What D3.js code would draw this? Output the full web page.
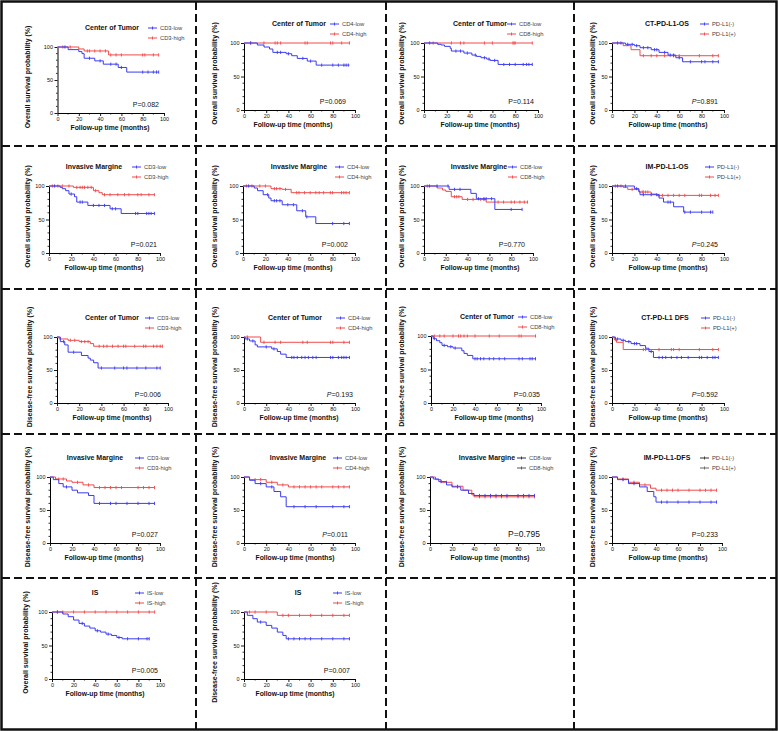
<!DOCTYPE html>
<html><head><meta charset="utf-8">
<script src="https://cdn.jsdelivr.net/npm/d3@7"></script>
<style>body{margin:0;background:#fff}svg{display:block}text{font-family:"Liberation Sans",Arial,sans-serif}</style>
</head><body><svg id="c" width="778" height="731"></svg>
<script>
// ---------- DATA: step curves [time, survival%] and censor times ----------
const xTicks = [0,20,40,60,80,100];
const yTicks = [0,50,100];
const OS_LABEL = "Overall survival probability (%)";
const DFS_LABEL = "Disease-free survival probability (%)";

const os_ct_cd3_low = [[0,100],[10,96],[20,93],[23,90],[25,83],[35,79],[43,74],[57,69],[65,62],[95,62]];
const os_ct_cd3_low_c = [7,30,40,50,55,60,80,85,90,93,95];
const os_ct_cd3_high = [[0,100],[20,97],[25,94],[48,88],[95,88]];
const os_ct_cd3_high_c = [5,12,28,30,35,40,45,50,55,60,80,82,90,95];

const os_ct_cd4_low = [[0,100],[12,97],[18,94],[23,91],[26,86],[38,84],[43,81],[48,77],[57,73],[65,67],[95,67]];
const os_ct_cd4_low_c = [6,30,33,40,53,60,70,80,85,90,92,94];
const os_ct_cd4_high = [[0,100],[95,100]];
const os_ct_cd4_high_c = [6,18,28,30,33,55,57,78,80,88,95];

const os_ct_cd8_low = [[0,100],[12,98],[15,97],[18,95],[23,92],[24,88],[35,85],[42,82],[46,80],[50,78],[55,76],[58,74],[65,68],[95,68]];
const os_ct_cd8_low_c = [5,28,32,38,45,53,57,62,70,75,80,87,90,92,95];
const os_ct_cd8_high = [[0,100],[95,100]];
const os_ct_cd8_high_c = [8,24,32,35,53,60,78,79,80,95];

const os_ct_pdl1_neg = [[0,100],[12,98],[20,96],[25,93],[35,90],[42,86],[50,82],[57,78],[63,72],[95,72]];
const os_ct_pdl1_neg_c = [5,8,14,18,22,28,32,38,40,47,52,55,60,70,80,83,90,95];
const os_ct_pdl1_pos = [[0,100],[10,96],[17,90],[25,81],[95,81]];
const os_ct_pdl1_pos_c = [28,35,40,47,55,60,78,90,95];

const os_im_cd3_low = [[0,100],[10,98],[12,96],[15,93],[18,88],[23,84],[25,76],[35,71],[55,66],[65,59],[95,59]];
const os_im_cd3_low_c = [5,20,28,30,40,45,50,57,60,78,80,88,90,92,95];
const os_im_cd3_high = [[0,100],[22,98],[40,93],[45,90],[48,87],[95,87]];
const os_im_cd3_high_c = [3,8,12,18,25,28,30,32,35,38,42,50,55,62,68,72,80,83,90,95];

const os_im_cd4_low = [[0,100],[10,97],[13,93],[18,87],[23,82],[25,78],[35,72],[48,63],[56,54],[65,44],[95,44]];
const os_im_cd4_low_c = [5,22,28,30,33,40,45,53,57,80,90,95];
const os_im_cd4_high = [[0,100],[25,96],[35,95],[43,90],[95,90]];
const os_im_cd4_high_c = [3,8,15,20,28,30,33,38,48,50,55,60,65,68,72,78,80,88,90,92,95];

const os_im_cd8_low = [[0,100],[23,95],[43,89],[48,81],[65,65],[90,65]];
const os_im_cd8_low_c = [5,12,22,28,33,50,55,57,62,80,90];
const os_im_cd8_high = [[0,100],[12,97],[17,94],[20,92],[25,84],[35,80],[57,76],[95,76]];
const os_im_cd8_high_c = [3,28,30,32,40,45,52,55,68,73,80,83,88,92,95];

const os_im_pdl1_neg = [[0,100],[20,96],[24,92],[25,87],[42,82],[46,76],[55,69],[64,61],[90,61]];
const os_im_pdl1_neg_c = [5,12,22,28,35,40,50,52,65,70,80,88,90];
const os_im_pdl1_pos = [[0,100],[10,98],[14,95],[24,91],[35,88],[40,86],[95,86]];
const os_im_pdl1_pos_c = [3,8,18,27,28,30,32,42,45,50,55,60,65,78,80,88,92,95];

const dfs_ct_cd3_low = [[0,100],[3,93],[7,88],[10,77],[22,72],[28,68],[30,65],[33,61],[37,53],[93,53]];
const dfs_ct_cd3_low_c = [6,15,40,52,60,63,72,80,90,93];
const dfs_ct_cd3_high = [[0,100],[2,97],[10,95],[20,93],[30,90],[33,86],[95,86]];
const dfs_ct_cd3_high_c = [12,16,22,25,28,38,42,45,50,55,60,62,70,78,80,87,90,93,95];

const dfs_ct_cd4_low = [[0,100],[1,97],[5,94],[10,88],[12,85],[25,82],[30,78],[33,74],[38,69],[95,69]];
const dfs_ct_cd4_low_c = [3,8,20,27,43,45,48,52,55,58,62,65,78,80,85,88,90,92,95];
const dfs_ct_cd4_high = [[0,100],[15,92],[95,92]];
const dfs_ct_cd4_high_c = [3,18,28,33,53,57,78,80,90,95];

const dfs_ct_cd8_low = [[0,100],[2,96],[5,93],[8,90],[10,86],[15,84],[20,82],[28,78],[30,74],[33,71],[38,66],[95,66]];
const dfs_ct_cd8_low_c = [3,12,18,22,40,42,45,48,53,57,62,67,80,83,90,92,95];
const dfs_ct_cd8_high = [[0,100],[95,100]];
const dfs_ct_cd8_high_c = [3,8,12,20,25,27,30,33,40,53,62,80,82,95];

const dfs_ct_pdl1_neg = [[0,100],[3,97],[8,95],[12,93],[17,90],[25,87],[30,83],[33,78],[37,69],[95,69]];
const dfs_ct_pdl1_neg_c = [5,10,15,20,22,35,42,45,48,53,58,62,68,78,80,85,90,92,95];
const dfs_ct_pdl1_pos = [[0,100],[2,96],[4,92],[10,81],[95,81]];
const dfs_ct_pdl1_pos_c = [3,28,30,42,53,55,60,78,90,95];

const dfs_im_cd3_low = [[0,100],[3,96],[8,90],[12,85],[20,80],[25,76],[35,72],[40,60],[95,60]];
const dfs_im_cd3_low_c = [15,45,55,60,70,80,90,95];
const dfs_im_cd3_high = [[0,100],[5,97],[15,94],[20,92],[30,88],[40,84],[95,84]];
const dfs_im_cd3_high_c = [8,12,25,35,45,50,55,60,65,80,85,90,95];

const dfs_im_cd4_low = [[0,100],[5,95],[10,90],[20,85],[27,78],[33,70],[38,55],[95,55]];
const dfs_im_cd4_low_c = [15,25,45,55,65,80,90,95];
const dfs_im_cd4_high = [[0,100],[5,96],[20,92],[30,88],[40,85],[95,85]];
const dfs_im_cd4_high_c = [10,15,25,35,45,50,55,60,65,70,80,85,90,95];

const dfs_im_cd8_low = [[0,100],[3,97],[8,93],[15,88],[20,85],[28,80],[35,75],[40,72],[95,72]];
const dfs_im_cd8_low_c = [10,25,45,50,55,60,65,70,80,85,90,95];
const dfs_im_cd8_high = [[0,100],[5,96],[10,92],[20,86],[30,80],[38,73],[40,70],[95,70]];
const dfs_im_cd8_high_c = [15,25,45,50,55,60,65,70,80,85,90,95];

const dfs_im_pdl1_neg = [[0,100],[5,96],[15,90],[25,85],[32,78],[38,70],[40,62],[95,62]];
const dfs_im_pdl1_neg_c = [10,20,45,50,60,70,80,90,95];
const dfs_im_pdl1_pos = [[0,100],[5,97],[15,92],[25,88],[35,83],[40,80],[95,80]];
const dfs_im_pdl1_pos_c = [10,20,30,45,50,55,60,70,80,85,90,95];

const os_is_low = [[0,100],[10,97],[15,93],[20,88],[25,83],[30,79],[35,76],[40,72],[45,70],[50,67],[55,65],[60,62],[65,60],[90,60]];
const os_is_low_c = [5,28,42,52,62,70,80,88,90];
const os_is_high = [[0,100],[95,100]];
const os_is_high_c = [5,10,20,30,40,50,60,70,80,90,95];

const dfs_is_low = [[0,100],[3,95],[8,90],[12,85],[20,80],[25,76],[30,70],[35,65],[38,60],[95,60]];
const dfs_is_low_c = [15,40,45,50,55,60,70,80,90,95];
const dfs_is_high = [[0,100],[30,95],[95,95]];
const dfs_is_high_c = [5,10,20,35,40,50,60,70,80,90,95];

// ---------- panel content ----------
const panels = [
 {title:"Center of Tumor", ylab:OS_LABEL, names:["CD3-low","CD3-high"], p:"P=0.082", it:false, a:[os_ct_cd3_low,os_ct_cd3_low_c], b:[os_ct_cd3_high,os_ct_cd3_high_c]},
 {title:"Center of Tumor", ylab:OS_LABEL, names:["CD4-low","CD4-high"], p:"P=0.069", it:false, a:[os_ct_cd4_low,os_ct_cd4_low_c], b:[os_ct_cd4_high,os_ct_cd4_high_c]},
 {title:"Center of Tumor", ylab:OS_LABEL, names:["CD8-low","CD8-high"], p:"P=0.114", it:false, a:[os_ct_cd8_low,os_ct_cd8_low_c], b:[os_ct_cd8_high,os_ct_cd8_high_c]},
 {title:"CT-PD-L1-OS", ylab:OS_LABEL, names:["PD-L1(-)","PD-L1(+)"], p:"P=0.891", it:true, a:[os_ct_pdl1_neg,os_ct_pdl1_neg_c], b:[os_ct_pdl1_pos,os_ct_pdl1_pos_c]},
 {title:"Invasive Margine", ylab:OS_LABEL, names:["CD3-low","CD3-high"], p:"P=0.021", it:false, a:[os_im_cd3_low,os_im_cd3_low_c], b:[os_im_cd3_high,os_im_cd3_high_c]},
 {title:"Invasive Margine", ylab:OS_LABEL, names:["CD4-low","CD4-high"], p:"P=0.002", it:false, a:[os_im_cd4_low,os_im_cd4_low_c], b:[os_im_cd4_high,os_im_cd4_high_c]},
 {title:"Invasive Margine", ylab:OS_LABEL, names:["CD8-low","CD8-high"], p:"P=0.770", it:false, a:[os_im_cd8_low,os_im_cd8_low_c], b:[os_im_cd8_high,os_im_cd8_high_c]},
 {title:"IM-PD-L1-OS", ylab:OS_LABEL, names:["PD-L1(-)","PD-L1(+)"], p:"P=0.245", it:true, a:[os_im_pdl1_neg,os_im_pdl1_neg_c], b:[os_im_pdl1_pos,os_im_pdl1_pos_c]},
 {title:"Center of Tumor", ylab:DFS_LABEL, names:["CD3-low","CD3-high"], p:"P=0.006", it:false, a:[dfs_ct_cd3_low,dfs_ct_cd3_low_c], b:[dfs_ct_cd3_high,dfs_ct_cd3_high_c]},
 {title:"Center of Tumor", ylab:DFS_LABEL, names:["CD4-low","CD4-high"], p:"P=0.193", it:true, a:[dfs_ct_cd4_low,dfs_ct_cd4_low_c], b:[dfs_ct_cd4_high,dfs_ct_cd4_high_c]},
 {title:"Center of Tumor", ylab:DFS_LABEL, names:["CD8-low","CD8-high"], p:"P=0.035", it:false, a:[dfs_ct_cd8_low,dfs_ct_cd8_low_c], b:[dfs_ct_cd8_high,dfs_ct_cd8_high_c]},
 {title:"CT-PD-L1 DFS", ylab:DFS_LABEL, names:["PD-L1(-)","PD-L1(+)"], p:"P=0.592", it:true, a:[dfs_ct_pdl1_neg,dfs_ct_pdl1_neg_c], b:[dfs_ct_pdl1_pos,dfs_ct_pdl1_pos_c]},
 {title:"Invasive Margine", ylab:DFS_LABEL, names:["CD3-low","CD3-high"], p:"P=0.027", it:false, a:[dfs_im_cd3_low,dfs_im_cd3_low_c], b:[dfs_im_cd3_high,dfs_im_cd3_high_c]},
 {title:"Invasive Margine", ylab:DFS_LABEL, names:["CD4-low","CD4-high"], p:"P=0.011", it:true, a:[dfs_im_cd4_low,dfs_im_cd4_low_c], b:[dfs_im_cd4_high,dfs_im_cd4_high_c]},
 {title:"Invasive Margine", ylab:DFS_LABEL, names:["CD8-low","CD8-high"], p:"P=0.795", it:false, big:true, legCols:["#2a2a55","#555"], a:[dfs_im_cd8_low,dfs_im_cd8_low_c], b:[dfs_im_cd8_high,dfs_im_cd8_high_c]},
 {title:"IM-PD-L1-DFS", ylab:DFS_LABEL, names:["PD-L1(-)","PD-L1(+)"], p:"P=0.233", it:false, legCols:["#333","#666"], a:[dfs_im_pdl1_neg,dfs_im_pdl1_neg_c], b:[dfs_im_pdl1_pos,dfs_im_pdl1_pos_c]},
 {title:"IS", ylab:OS_LABEL, names:["IS-low","IS-high"], p:"P=0.005", it:false, a:[os_is_low,os_is_low_c], b:[os_is_high,os_is_high_c]},
 {title:"IS", ylab:DFS_LABEL, names:["IS-low","IS-high"], p:"P=0.007", it:false, a:[dfs_is_low,dfs_is_low_c], b:[dfs_is_high,dfs_is_high_c]}
];

// ---------- layout (pixels): axisX, x100, y100, y0, titleX, legendX, ylabelX, pRight, xlabelX ----------
const layout = [
 [57.5,164,47,113,112,148,30,159,110],
 [244,355,43,110,299,330,217,346,293],
 [424,538,43,110,480,507,404,534,480],
 [612,724,43,110,667,700,595,718,668],
 [49,160,186,253,94,132,30,157,104],
 [243,355,186,253,299,335,217,348,293],
 [424,533,186,253,479,508,404,525,480],
 [612,724,186,253,667,705,595,718,668],
 [57,168,337,403,112,145,32,161,112],
 [244,355,337,403,295,336,217,353,299],
 [431,541,336,403,487,518,404,540,494],
 [612,724,337,403,665,701,595,718,668],
 [50,160,477,543,95,135,30,158,104],
 [244,355,477,543,298,333,217,348,295],
 [430,540,477,543,487,517,404,540,490],
 [612,722,477,543,667,700,595,718,668],
 [52,160,612,679,95,135,28,158,105],
 [244,355,612,679,298,333,217,350,295]
];

const BLUE = "#3b3bf5", RED = "#f04a4a";
const svg = d3.select("#c");
svg.append("rect").attr("x",0).attr("y",0).attr("width",778).attr("height",731).attr("fill","#fff");

// grid of dashed separators
const hLines = [146,289,434,578];
const vLines = [196,386,574];
hLines.forEach(y=>svg.append("line").attr("x1",2).attr("x2",776).attr("y1",y).attr("y2",y)
  .attr("stroke","#111").attr("stroke-width",2).attr("stroke-dasharray","8,4"));
vLines.forEach(x=>svg.append("line").attr("x1",x).attr("x2",x).attr("y1",2).attr("y2",729)
  .attr("stroke","#111").attr("stroke-width",2).attr("stroke-dasharray","8,4"));
svg.append("rect").attr("x",1.5).attr("y",1.5).attr("width",775).attr("height",728)
  .attr("fill","none").attr("stroke","#111").attr("stroke-width",2.5);

function survAt(steps,t){let s=steps[0][1];for(const d of steps){if(d[0]<=t)s=d[1];}return s;}

panels.forEach((P,i)=>{
  const [ax,ax100,ay100,ay0,tX,lX,ylX,pX,xlX] = layout[i];
  const x = d3.scaleLinear().domain([0,100]).range([ax,ax100]);
  const y = d3.scaleLinear().domain([0,100]).range([ay0,ay100]);
  const g = svg.append("g");

  // minor ticks
  const minor = [10,30,50,70,90];
  g.selectAll(null).data(minor).join("line").attr("x1",d=>x(d)).attr("x2",d=>x(d)).attr("y1",ay0).attr("y2",ay0+1.5).attr("stroke","#000").attr("stroke-width",0.8);
  g.selectAll(null).data([10,20,30,40,60,70,80,90]).join("line").attr("y1",d=>y(d)).attr("y2",d=>y(d)).attr("x1",ax).attr("x2",ax-1.5).attr("stroke","#000").attr("stroke-width",0.8);

  const xa = g.append("g").attr("transform",`translate(0,${ay0})`)
    .call(d3.axisBottom(x).tickValues(xTicks).tickSize(3).tickSizeOuter(0).tickPadding(1.5));
  const ya = g.append("g").attr("transform",`translate(${ax},0)`)
    .call(d3.axisLeft(y).tickValues(yTicks).tickSize(3).tickSizeOuter(0).tickPadding(1.5));
  [xa,ya].forEach(a=>{a.select(".domain").attr("stroke","#000").attr("stroke-width",1);
    a.selectAll(".tick line").attr("stroke","#000").attr("stroke-width",0.9);
    a.selectAll("text").attr("font-size",5.5).attr("font-family","Liberation Sans, Arial, sans-serif").attr("fill","#111");});

  const line = d3.line().x(d=>x(d[0])).y(d=>y(d[1])).curve(d3.curveStepAfter);
  [[P.b,RED],[P.a,BLUE]].forEach(([c,col])=>{
    g.append("path").datum(c[0]).attr("d",line).attr("fill","none").attr("stroke",col).attr("stroke-width",1);
    g.selectAll(null).data(c[1]).join("line")
      .attr("x1",t=>x(t)).attr("x2",t=>x(t))
      .attr("y1",t=>y(survAt(c[0],t))-1.6).attr("y2",t=>y(survAt(c[0],t))+1.6)
      .attr("stroke",col).attr("stroke-width",0.9);
  });

  // title
  g.append("text").attr("x",tX).attr("y",ay100-17).attr("text-anchor","middle")
    .attr("font-size",7).attr("font-weight","bold").attr("fill","#111").text(P.title);
  // legend
  const lc = P.legCols || [BLUE,RED];
  [[P.names[0],lc[0],ay100-19],[P.names[1],lc[1],ay100-9]].forEach(([nm,col,yy])=>{
    g.append("line").attr("x1",lX).attr("x2",lX+9).attr("y1",yy).attr("y2",yy).attr("stroke",col).attr("stroke-width",1);
    g.append("line").attr("x1",lX+4.5).attr("x2",lX+4.5).attr("y1",yy-1.5).attr("y2",yy+1.5).attr("stroke",col).attr("stroke-width",0.9);
    g.append("text").attr("x",lX+12).attr("y",yy+2).attr("font-size",5.8).attr("fill","#444").text(nm);
  });
  // p value
  const pt = g.append("text").attr("x",pX).attr("y",ay0-6).attr("text-anchor","end").attr("font-size",P.big?8.5:7).attr("fill","#111");
  if(P.it){pt.append("tspan").attr("font-style","italic").text("P");pt.append("tspan").text(P.p.slice(1));}
  else pt.text(P.p);
  // x label
  g.append("text").attr("x",xlX).attr("y",ay0+17).attr("text-anchor","middle")
    .attr("font-size",6.8).attr("font-weight","bold").attr("fill","#111").text("Follow-up time (months)");
  // y label
  g.append("text").attr("transform",`translate(${ylX},${(ay100+ay0)/2-3}) rotate(-90)`).attr("text-anchor","middle")
    .attr("font-size",7).attr("font-weight","bold").attr("fill","#111").text(P.ylab);
});
</script></body></html>
